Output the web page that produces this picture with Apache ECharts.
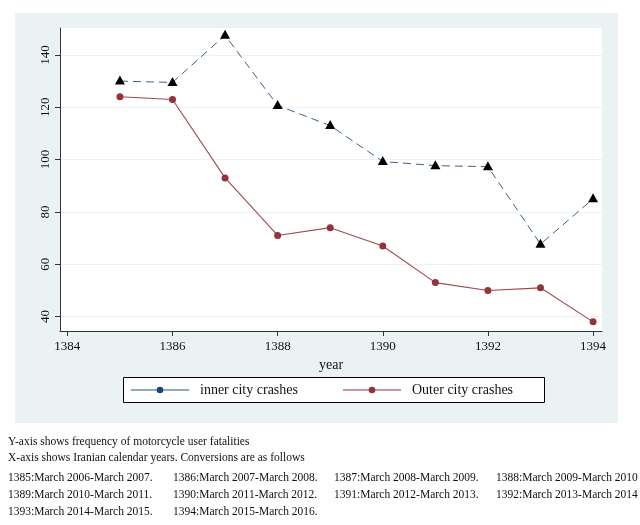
<!DOCTYPE html>
<html>
<head>
<meta charset="utf-8">
<script src="https://cdn.jsdelivr.net/npm/echarts@6/dist/echarts.min.js"></script>
<style>html,body{margin:0;padding:0;background:#fff}#c{width:640px;height:525px}</style>
</head>
<body>
<div id="c"></div>
<script>
var years = [1385, 1386, 1387, 1388, 1389, 1390, 1391, 1392, 1393, 1394];
var innerCity = [130, 129.5, 147.5, 120.7, 113, 99.3, 97.7, 97.3, 67.7, 85];
var outerCity = [124, 123, 93, 71, 74, 67, 53, 50, 51, 38];
var xTicks = [1384, 1386, 1388, 1390, 1392, 1394];
var yTicks = [40, 60, 80, 100, 120, 140];
var seriesNames = ['inner city crashes', 'Outer city crashes'];
var noteLines = [
  'Y-axis shows frequency of motorcycle user fatalities',
  'X-axis shows Iranian calendar years. Conversions are as follows'
];
var conversions = [
  '1385:March 2006-March 2007.', '1386:March 2007-March 2008.', '1387:March 2008-March 2009.', '1388:March 2009-March 2010',
  '1389:March 2010-March 2011.', '1390:March 2011-March 2012.', '1391:March 2012-March 2013.', '1392:March 2013-March 2014',
  '1393:March 2014-March 2015.', '1394:March 2015-March 2016.'
];

var FONT = '"Liberation Serif", "DejaVu Serif", serif';
var chart = echarts.init(document.getElementById('c'), null, {renderer: 'canvas'});

var graphics = [{
  type: 'rect', z: -10, silent: true,
  shape: {x: 15, y: 13, width: 603, height: 410},
  style: {fill: '#eaf2f3'}
}, {
  type: 'rect', z: -9, silent: true,
  shape: {x: 60, y: 28, width: 542, height: 303},
  style: {fill: '#ffffff'}
}];
noteLines.forEach(function (t, i) {
  graphics.push({type: 'text', x: 8, y: 442 + i * 16, style: {text: t, font: '11.5px ' + FONT, fill: '#111', verticalAlign: 'middle'}});
});
var colX = [8, 173, 334, 496];
conversions.forEach(function (t, i) {
  graphics.push({type: 'text', x: colX[i % 4], y: 478 + Math.floor(i / 4) * 17, style: {text: t, font: '11.5px ' + FONT, fill: '#111', verticalAlign: 'middle'}});
});

// legend (drawn as graphic so it can show a line with a dot marker)
var legendItems = [
  {x: 131, name: seriesNames[0], line: '#2d5478', dot: '#1a476f'},
  {x: 343, name: seriesNames[1], line: '#90353b', dot: '#90353b'}
];
graphics.push({
  type: 'rect', silent: true,
  shape: {x: 123.5, y: 377.5, width: 421, height: 25},
  style: {fill: '#fff', stroke: '#000', lineWidth: 1}
});
legendItems.forEach(function (it) {
  graphics.push({type: 'line', silent: true, shape: {x1: it.x, y1: 390, x2: it.x + 58, y2: 390}, style: {stroke: it.line, lineWidth: 1.2}});
  graphics.push({type: 'circle', silent: true, shape: {cx: it.x + 29, cy: 390, r: 3.3}, style: {fill: it.dot}});
  graphics.push({type: 'text', silent: true, x: it.x + 69, y: 390, style: {text: it.name, font: '14px ' + FONT, fill: '#111', verticalAlign: 'middle'}});
});

chart.setOption({
  animation: false,
  backgroundColor: '#ffffff',
  graphic: graphics,
  grid: {left: 60, right: 38, top: 28, bottom: 194, containLabel: false},
  xAxis: {
    type: 'value', min: 1383.86, max: 1394.17,
    name: 'year', nameLocation: 'middle', nameGap: 26,
    nameTextStyle: {fontFamily: FONT, fontSize: 14, color: '#111'},
    axisLine: {show: true, lineStyle: {color: '#333', width: 1}},
    axisTick: {show: true, length: 5, lineStyle: {color: '#333'}, customValues: xTicks},
    axisLabel: {customValues: xTicks, fontFamily: FONT, fontSize: 13, color: '#111', margin: 9,
      formatter: function (v) { return String(v); }},
    splitLine: {show: false}
  },
  yAxis: {
    type: 'value', min: 34.5, max: 150.3,
    axisLine: {show: true, lineStyle: {color: '#333', width: 1}},
    axisTick: {show: true, length: 5, lineStyle: {color: '#333'}, customValues: yTicks},
    axisLabel: {customValues: yTicks, rotate: 90, fontFamily: FONT, fontSize: 13, color: '#111', margin: 8},
    splitLine: {show: true, lineStyle: {color: '#eaf2f3', width: 1}}
  },
  series: [{
    name: seriesNames[0], type: 'line',
    data: years.map(function (y, i) { return [y, innerCity[i]]; }),
    lineStyle: {color: '#3b6288', width: 1, type: [8, 5]},
    symbol: 'triangle', symbolSize: [10, 9], symbolOffset: [0, -1],
    itemStyle: {color: '#000', borderColor: '#000', borderWidth: 0},
    z: 3
  }, {
    name: seriesNames[1], type: 'line',
    data: years.map(function (y, i) { return [y, outerCity[i]]; }),
    lineStyle: {color: '#a2474c', width: 1.1},
    symbol: 'circle', symbolSize: 7,
    itemStyle: {color: '#90353b', borderWidth: 0},
    z: 2
  }]
});
</script>
</body>
</html>
